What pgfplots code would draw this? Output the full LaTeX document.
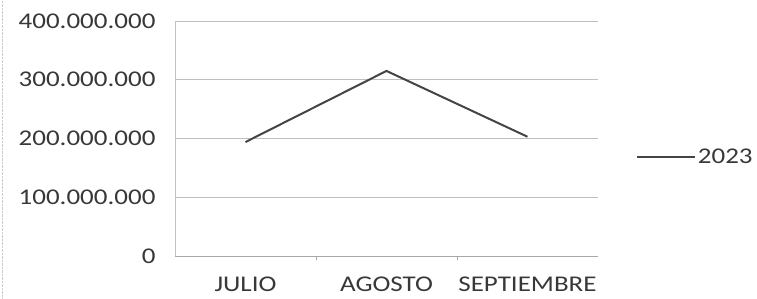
\documentclass[border=0pt]{standalone}
\usepackage{fontspec}
\setmainfont[FakeStretch=1.2]{Carlito}
\usepackage{pgfplots}
\pgfplotsset{compat=1.18}
\definecolor{txt}{HTML}{383838}
\definecolor{grid}{HTML}{A8A8A8}
\definecolor{ln}{HTML}{444444}
\begin{document}
\begin{tikzpicture}[x=1pt,y=1pt]
\useasboundingbox (0,0) rectangle (757,298);
\draw[grid!60, densely dotted] (2,0) -- (2,298);
\begin{axis}[
  at={(175pt,42pt)}, anchor=south west,
  scale only axis, width=423pt, height=235pt,
  xmin=-0.5, xmax=2.5, ymin=0, ymax=400000000,
  xtick={0,1,2}, xticklabels={JULIO,AGOSTO,SEPTIEMBRE},
  ytick={0,100000000,200000000,300000000,400000000},
  yticklabels={0,100.000.000,200.000.000,300.000.000,400.000.000},
  scaled y ticks=false,
  /pgf/number format/assume math mode=true,
  ymajorgrids=true, xmajorgrids=false,
  major grid style={grid, line width=0.8pt},
  axis x line*=bottom, axis y line*=left,
  axis line style={grid!70},
  x axis line style={grid, line width=0.8pt},
  major tick length=0pt,
  tick label style={font=\fontsize{22.5}{24}\selectfont, text=txt},
  xticklabel style={yshift=-17pt},
  yticklabel style={xshift=-16pt},
  legend style={at={(1.23,0.42)}, anchor=center, draw=none, fill=none,
    font=\fontsize{22.5}{24}\selectfont, text=txt},
  legend image code/.code={\draw[#1] (0pt,0pt) -- (58pt,0pt);},
  clip=false,
]
\addplot[ln, line width=2pt] coordinates {(0,194000000) (1,315000000) (2,203000000)};
\addlegendentry{2023}
\draw[grid, line width=0.8pt] (axis cs:0.5,0) -- ([yshift=-4pt]axis cs:0.5,0);
\draw[grid, line width=0.8pt] (axis cs:1.5,0) -- ([yshift=-4pt]axis cs:1.5,0);
\end{axis}
\end{tikzpicture}
\end{document}
